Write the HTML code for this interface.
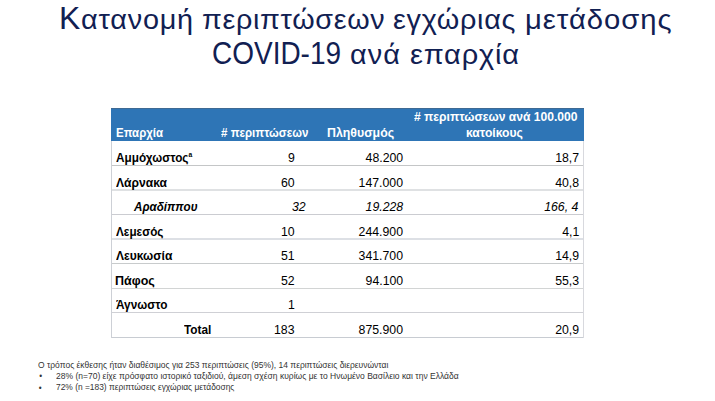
<!DOCTYPE html>
<html><head><meta charset="utf-8">
<style>
html,body{margin:0;padding:0;background:#fff;}
body{width:715px;height:401px;position:relative;overflow:hidden;font-family:"Liberation Sans",sans-serif;}
.t{position:absolute;white-space:nowrap;line-height:normal;transform-origin:0 0;}
.title{color:#112052;}
.cap{font-size:30.5px;}
.h{color:#fff;font-weight:bold;}
.c{color:#000;}
.b{font-weight:bold;}
.i{font-style:italic;}
.f{color:#333;}
.hdr{position:absolute;left:111px;top:108px;width:473px;height:32px;background:#2E75B6;border-top:1px solid #3f6a93;}
.hl{position:absolute;left:111px;width:473px;height:1px;background:#c9ced2;}
.vl{position:absolute;top:141px;width:1px;height:197px;background:#c9ced2;}
sup{font-size:7px;vertical-align:0;position:relative;top:-4.6px;}
</style></head><body>
<div class="hdr"></div>
<div class="hl" style="top:165px;height:1px;background:#c4c6c7"></div>
<div class="hl" style="top:189px;height:2px;background:#dfe1e3"></div>
<div class="hl" style="top:214px;height:1px;background:#cbccd1"></div>
<div class="hl" style="top:238px;height:2px;background:#dde0e5"></div>
<div class="hl" style="top:263px;height:1px;background:#c8cbcc"></div>
<div class="hl" style="top:288px;height:1px;background:#d2d4d4"></div>
<div class="hl" style="top:312px;height:1px;background:#cfd0d5"></div>
<div class="hl" style="top:337px;height:1px;background:#c8ccd2"></div>
<div class="vl" style="left:111px;background:#cdd0d6"></div>
<div class="vl" style="left:583px;background:#d8d9de"></div>
<div id="t1a" class="t title" style="left:59.28px;top:1.00px;font-size:27.6px;transform:scaleX(1.0454);letter-spacing:0.738px;"><span class="cap">Κ</span>ατανομή</div>
<div id="t1b" class="t title" style="left:202.16px;top:4.00px;font-size:27.6px;transform:scaleX(1.0410);letter-spacing:0.658px;">περιπτώσεων</div>
<div id="t1c" class="t title" style="left:393.18px;top:4.00px;font-size:27.6px;transform:scaleX(1.0442);letter-spacing:0.677px;">εγχώριας</div>
<div id="t1d" class="t title" style="left:525.11px;top:4.00px;font-size:27.6px;transform:scaleX(1.0597);letter-spacing:0.908px;">μετάδοσης</div>
<div id="t2a" class="t title" style="left:211.92px;top:36.00px;font-size:30.5px;transform:scaleX(0.9174);">COVID-19</div>
<div id="t2b" class="t title" style="left:350.18px;top:39.00px;font-size:27.6px;transform:scaleX(1.0456);letter-spacing:0.980px;">ανά</div>
<div id="t2c" class="t title" style="left:409.56px;top:39.00px;font-size:27.6px;transform:scaleX(1.0495);letter-spacing:0.770px;">επαρχία</div>
<div id="h1" class="t h" style="left:115.83px;top:126.00px;font-size:12.2px;transform:scaleX(0.9400);">Επαρχία</div>
<div id="h2" class="t h" style="left:220.80px;top:126.00px;font-size:12.2px;transform:scaleX(0.9478);"># περιπτώσεων</div>
<div id="h3" class="t h" style="left:326.99px;top:126.00px;font-size:12.2px;transform:scaleX(1.0123);">Πληθυσμός</div>
<div id="h4" class="t h" style="left:413.60px;top:110.00px;font-size:12.2px;transform:scaleX(0.9921);"># περιπτώσεων ανά 100.000</div>
<div id="h5" class="t h" style="left:466.39px;top:126.00px;font-size:12.2px;transform:scaleX(0.9947);">κατοίκους</div>
<div id="l0" class="t c b" style="left:116.00px;top:151.00px;font-size:12.3px;transform:scaleX(0.9575);">Αμμόχωστος<sup>a</sup></div>
<div id="a0" class="t c" style="left:288.00px;top:151.00px;font-size:12.3px;">9</div>
<div id="b0" class="t c" style="left:365.60px;top:151.00px;font-size:12.3px;">48.200</div>
<div id="d0" class="t c" style="left:555.19px;top:151.00px;font-size:12.3px;">18,7</div>
<div id="l1" class="t c b" style="left:116.38px;top:176.00px;font-size:12.3px;transform:scaleX(0.9846);">Λάρνακα</div>
<div id="a1" class="t c" style="left:281.00px;top:176.00px;font-size:12.3px;">60</div>
<div id="b1" class="t c" style="left:358.60px;top:176.00px;font-size:12.3px;">147.000</div>
<div id="d1" class="t c" style="left:555.19px;top:176.00px;font-size:12.3px;">40,8</div>
<div id="l2" class="t c b i" style="left:134.16px;top:200.00px;font-size:12.3px;transform:scaleX(0.9471);">Αραδίππου</div>
<div id="a2" class="t c i" style="left:292.00px;top:200.00px;font-size:12.3px;">32</div>
<div id="b2" class="t c i" style="left:365.60px;top:200.00px;font-size:12.3px;">19.228</div>
<div id="d2" class="t c i" style="left:544.19px;top:200.00px;font-size:12.3px;">166, 4</div>
<div id="l3" class="t c b" style="left:116.38px;top:225.00px;font-size:12.3px;transform:scaleX(0.9540);">Λεμεσός</div>
<div id="a3" class="t c" style="left:281.00px;top:225.00px;font-size:12.3px;">10</div>
<div id="b3" class="t c" style="left:358.60px;top:225.00px;font-size:12.3px;">244.900</div>
<div id="d3" class="t c" style="left:562.19px;top:225.00px;font-size:12.3px;">4,1</div>
<div id="l4" class="t c b" style="left:116.38px;top:249.00px;font-size:12.3px;transform:scaleX(0.9810);">Λευκωσία</div>
<div id="a4" class="t c" style="left:281.00px;top:249.00px;font-size:12.3px;">51</div>
<div id="b4" class="t c" style="left:358.60px;top:249.00px;font-size:12.3px;">341.700</div>
<div id="d4" class="t c" style="left:555.19px;top:249.00px;font-size:12.3px;">14,9</div>
<div id="l5" class="t c b" style="left:115.37px;top:274.00px;font-size:12.3px;transform:scaleX(1.0158);">Πάφος</div>
<div id="a5" class="t c" style="left:281.00px;top:274.00px;font-size:12.3px;">52</div>
<div id="b5" class="t c" style="left:365.60px;top:274.00px;font-size:12.3px;">94.100</div>
<div id="d5" class="t c" style="left:555.19px;top:274.00px;font-size:12.3px;">55,3</div>
<div id="l6" class="t c b" style="left:115.60px;top:298.00px;font-size:12.3px;transform:scaleX(0.9623);">Άγνωστο</div>
<div id="a6" class="t c" style="left:288.00px;top:298.00px;font-size:12.3px;">1</div>
<div id="l7" class="t c b" style="left:184.40px;top:323.00px;font-size:12.3px;transform:scaleX(0.9607);">Total</div>
<div id="a7" class="t c" style="left:274.00px;top:323.00px;font-size:12.3px;">183</div>
<div id="b7" class="t c" style="left:358.60px;top:323.00px;font-size:12.3px;">875.900</div>
<div id="d7" class="t c" style="left:555.19px;top:323.00px;font-size:12.3px;">20,9</div>
<div id="f1" class="t f" style="left:38.38px;top:361.30px;font-size:8.2px;transform:scaleX(1.0352);">Ο τρόπος έκθεσης ήταν διαθέσιμος για 253 περιπτώσεις (95%), 14 περιπτώσεις διερευνώνται</div>
<div id="f2" class="t f" style="left:39.19px;top:372.41px;font-size:8.2px;">•</div>
<div id="f3" class="t f" style="left:55.57px;top:372.00px;font-size:8.2px;transform:scaleX(1.0395);">28% (n=70) είχε πρόσφατο ιστορικό ταξιδιού, άμεση σχέση κυρίως με το Ηνωμένο Βασίλειο και την Ελλάδα</div>
<div id="f4" class="t f" style="left:38.79px;top:384.00px;font-size:8.2px;">•</div>
<div id="f5" class="t f" style="left:55.58px;top:383.00px;font-size:8.2px;transform:scaleX(1.0260);">72% (n =183) περιπτώσεις εγχώριας μετάδοσης</div>
</body></html>
